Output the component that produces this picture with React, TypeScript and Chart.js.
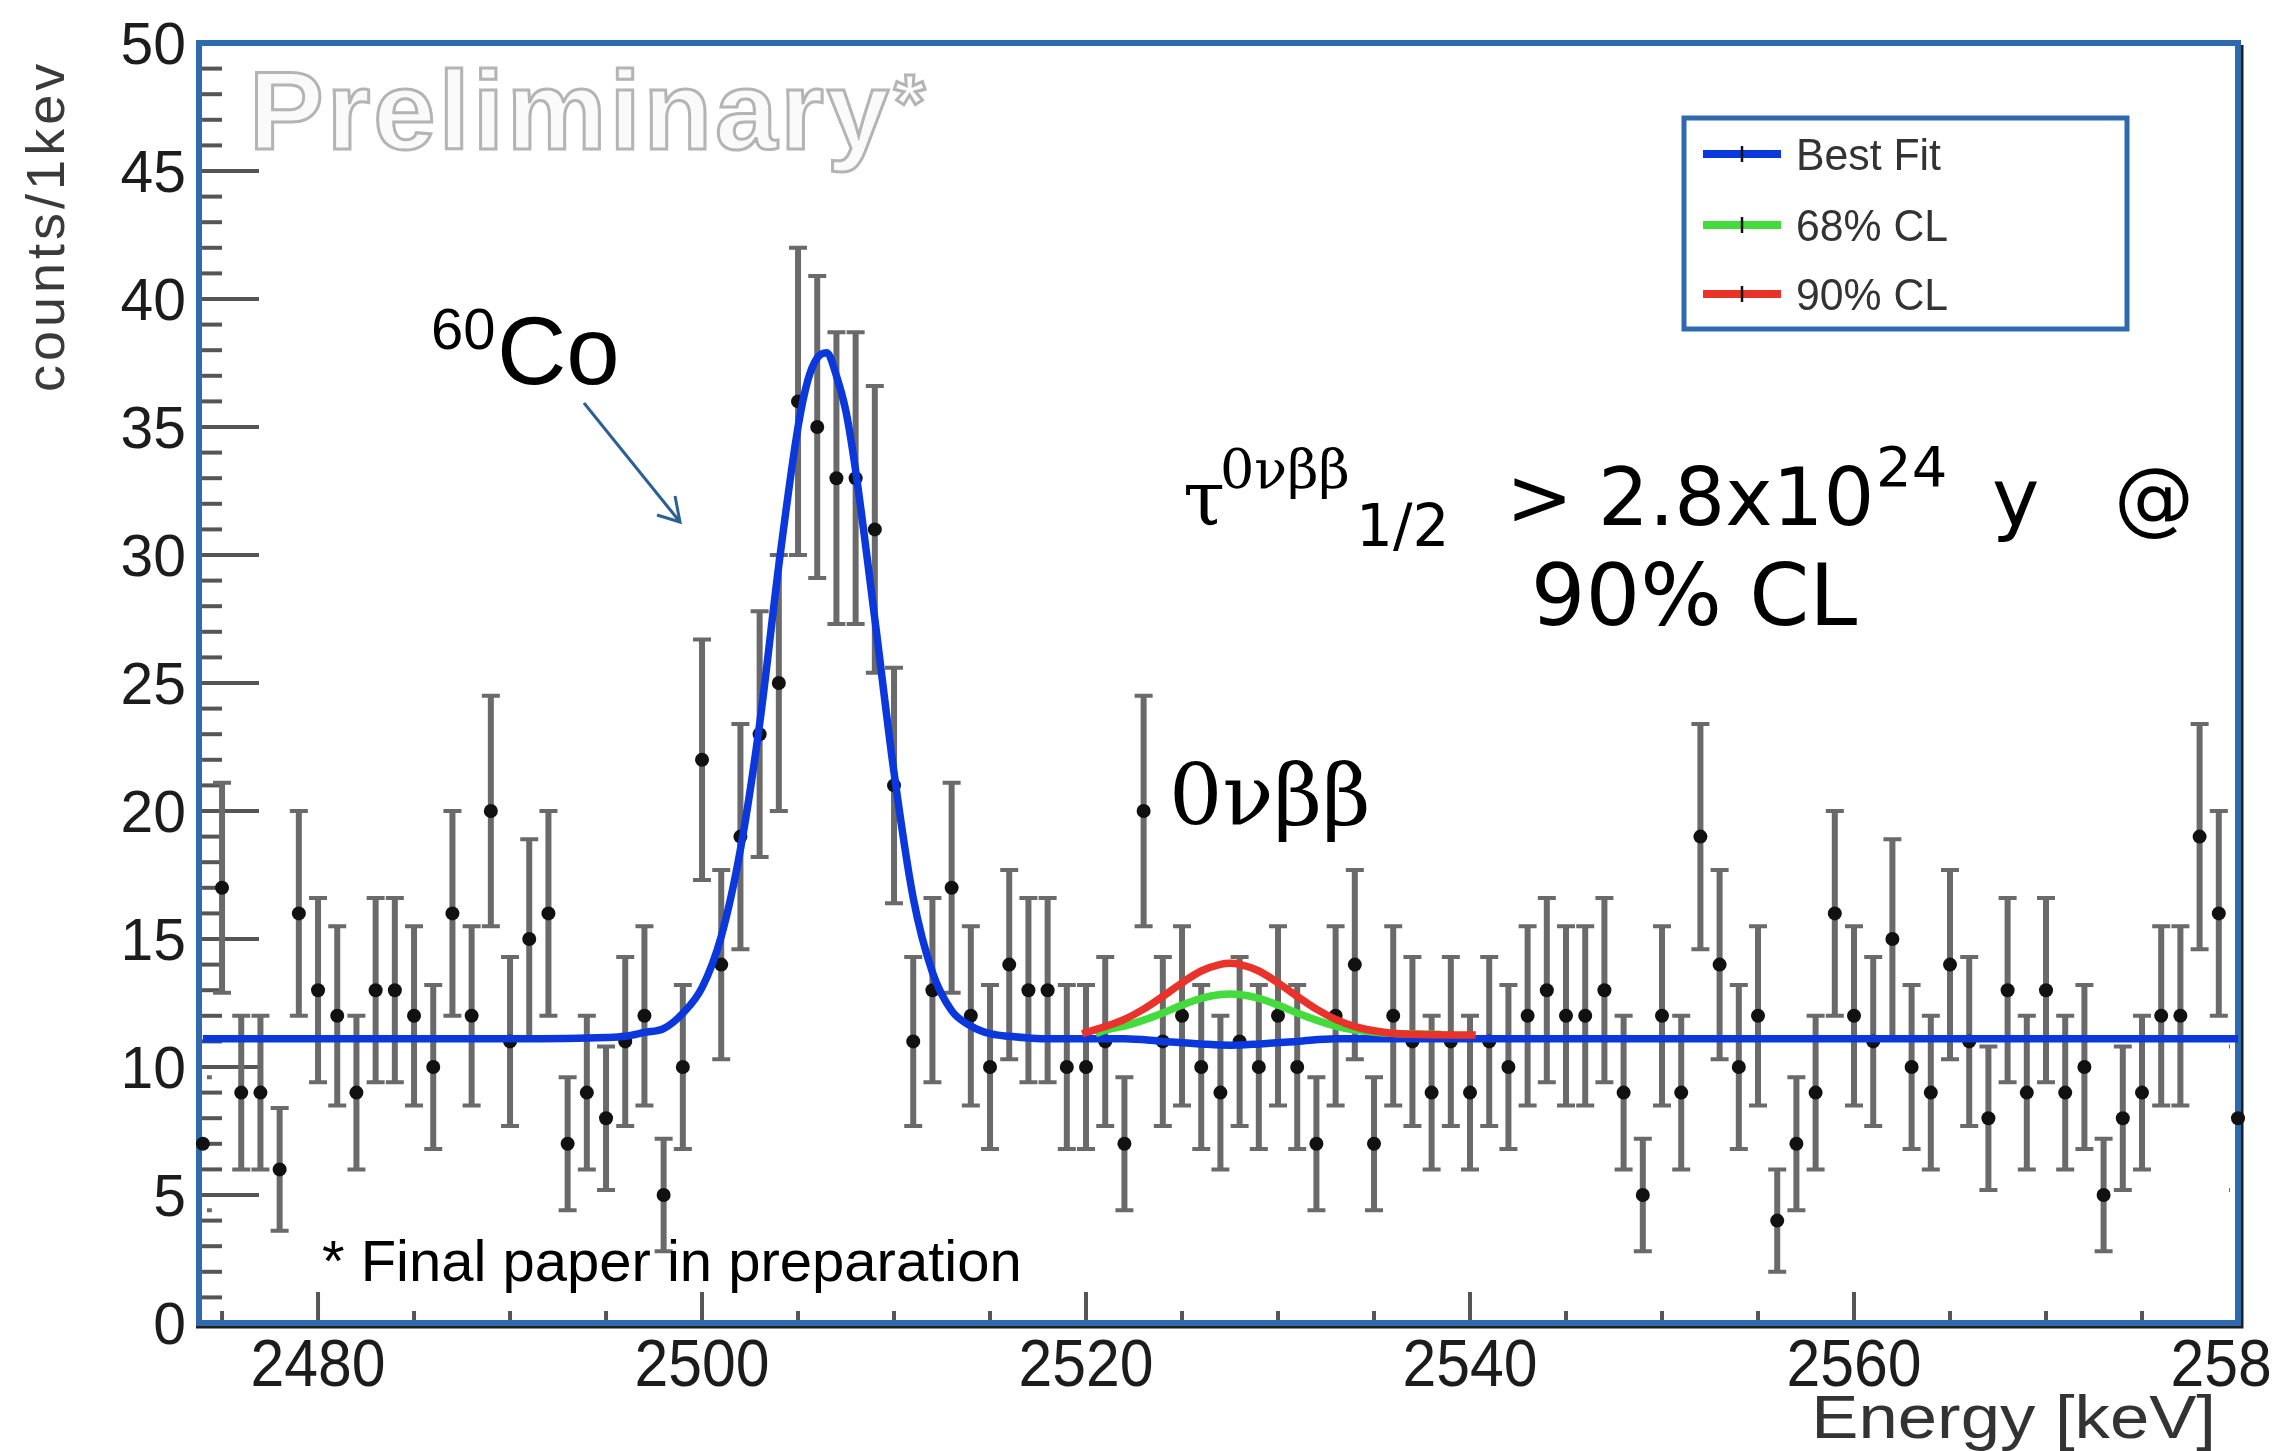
import React, { useEffect, useRef } from 'react';
import { Chart, registerables } from 'chart.js';

Chart.register(...registerables);

// ---------- data ----------
const energies = [
  2474, 2475, 2476, 2477, 2478, 2479, 2480, 2481, 2482, 2483,
  2484, 2485, 2486, 2487, 2488, 2489, 2490, 2491, 2492, 2493,
  2494, 2495, 2496, 2497, 2498, 2499, 2500, 2501, 2502, 2503,
  2504, 2505, 2506, 2507, 2508, 2509, 2510, 2511, 2512, 2513,
  2514, 2515, 2516, 2517, 2518, 2519, 2520, 2521, 2522, 2523,
  2524, 2525, 2526, 2527, 2528, 2529, 2530, 2531, 2532, 2533,
  2534, 2535, 2536, 2537, 2538, 2539, 2540, 2541, 2542, 2543,
  2544, 2545, 2546, 2547, 2548, 2549, 2550, 2551, 2552, 2553,
  2554, 2555, 2556, 2557, 2558, 2559, 2560, 2561, 2562, 2563,
  2564, 2565, 2566, 2567, 2568, 2569, 2570, 2571, 2572, 2573,
  2574, 2575, 2576, 2577, 2578, 2579, 2580,
];
const counts = [
  7, 17, 9, 9, 6, 16, 13, 12, 9, 13,
  13, 12, 10, 16, 12, 20, 11, 15, 16, 7,
  9, 8, 11, 12, 5, 10, 22, 14, 19, 23,
  25, 36, 35, 33, 33, 31, 21, 11, 13, 17,
  12, 10, 14, 13, 13, 10, 10, 11, 7, 20,
  11, 12, 10, 9, 11, 10, 12, 10, 7, 12,
  14, 7, 12, 11, 9, 11, 9, 11, 10, 12,
  13, 12, 12, 13, 9, 5, 12, 9, 19, 14,
  10, 12, 4, 7, 9, 16, 12, 11, 15, 10,
  9, 14, 11, 8, 13, 9, 13, 9, 10, 5,
  8, 9, 12, 12, 19, 16, 8,
];
const countErrors = [
  2.6, 4.1, 3.0, 3.0, 2.4, 4.0, 3.6, 3.5, 3.0, 3.6,
  3.6, 3.5, 3.2, 4.0, 3.5, 4.5, 3.3, 3.9, 4.0, 2.6,
  3.0, 2.8, 3.3, 3.5, 2.2, 3.2, 4.7, 3.7, 4.4, 4.8,
  5.0, 6.0, 5.9, 5.7, 5.7, 5.6, 4.6, 3.3, 3.6, 4.1,
  3.5, 3.2, 3.7, 3.6, 3.6, 3.2, 3.2, 3.3, 2.6, 4.5,
  3.3, 3.5, 3.2, 3.0, 3.3, 3.2, 3.5, 3.2, 2.6, 3.5,
  3.7, 2.6, 3.5, 3.3, 3.0, 3.3, 3.0, 3.3, 3.2, 3.5,
  3.6, 3.5, 3.5, 3.6, 3.0, 2.2, 3.5, 3.0, 4.4, 3.7,
  3.2, 3.5, 2.0, 2.6, 3.0, 4.0, 3.5, 3.3, 3.9, 3.2,
  3.0, 3.7, 3.3, 2.8, 3.6, 3.0, 3.6, 3.0, 3.2, 2.2,
  2.8, 3.0, 3.5, 3.5, 4.4, 4.0, 2.8,
];

// Best fit curve
const bestFitE = [2474, 2490, 2495, 2496, 2497, 2498, 2499, 2500, 2501, 2502, 2503, 2504, 2505, 2505.5, 2506, 2506.5, 2507, 2507.5, 2508, 2509, 2510, 2511, 2512, 2513, 2514, 2515, 2516, 2518, 2522, 2524, 2526, 2527.5, 2529, 2531, 2533, 2540, 2580];
const bestFitY = [11.1, 11.1, 11.15, 11.2, 11.35, 11.5, 12.1, 13.1, 15.1, 18.5, 23.4, 29.6, 35.0, 36.8, 37.7, 37.9, 37.0, 35.6, 33.3, 27.5, 21.5, 16.6, 13.7, 12.2, 11.6, 11.3, 11.2, 11.1, 11.1, 11.0, 10.9, 10.85, 10.9, 11.0, 11.1, 11.1, 11.1];

// 68% CL curve
const cl68E = [2520.5, 2521, 2522, 2523, 2524, 2525, 2526, 2527, 2527.5, 2528, 2529, 2530, 2531, 2532, 2533, 2534, 2535.5, 2538.5];
const cl68Y = [11.3, 11.44, 11.6, 11.83, 12.11, 12.42, 12.68, 12.83, 12.85, 12.83, 12.68, 12.42, 12.11, 11.83, 11.6, 11.44, 11.33, 11.28];

// 90% CL curve
const cl90E = [2519.8, 2521, 2522, 2523, 2524, 2525, 2526, 2527, 2527.5, 2528, 2529, 2530, 2531, 2532, 2533, 2534, 2535.5, 2537, 2540.3];
const cl90Y = [11.3, 11.58, 11.86, 12.26, 12.76, 13.29, 13.75, 14.01, 14.05, 14.01, 13.75, 13.29, 12.76, 12.26, 11.86, 11.58, 11.36, 11.28, 11.25];

const seriesLabels = ['Best Fit', '68% CL', '90% CL'];
const seriesColors = ['#0a38dc', '#44dc3c', '#e8322a'];

const yTickValues = [0, 5, 10, 15, 20, 25, 30, 35, 40, 45, 50];
const yTickLabels = ['0', '5', '10', '15', '20', '25', '30', '35', '40', '45', '50'];
const xTickValues = [2480, 2500, 2520, 2540, 2560, 2580];
const xTickLabels = ['2480', '2500', '2520', '2540', '2560', '2580'];

const FRAME = '#2e6aad';
const SANS = '"Liberation Sans", Arial, sans-serif';
const DSANS = '"DejaVu Sans", sans-serif';
const SERIF = '"DejaVu Serif", serif';

function txt(
  ctx: CanvasRenderingContext2D,
  s: string,
  x: number,
  y: number,
  font: string,
  color: string,
  align: CanvasTextAlign = 'left',
  baseline: CanvasTextBaseline = 'alphabetic',
  sx = 1,
) {
  ctx.save();
  ctx.font = font;
  ctx.fillStyle = color;
  ctx.textAlign = align;
  ctx.textBaseline = baseline;
  ctx.translate(x, y);
  ctx.scale(sx, 1);
  ctx.fillText(s, 0, 0);
  ctx.restore();
}

const decorPlugin = {
  id: 'decor',
  beforeDatasetsDraw(chart: any) {
    const { ctx, chartArea: a, scales } = chart;
    const xs = scales.x;
    const ys = scales.y;
    ctx.save();
    // tick marks
    ctx.strokeStyle = '#555';
    ctx.lineWidth = 4;
    for (let v = 0; v <= 50; v++) {
      const py = ys.getPixelForValue(v);
      const len = v % 5 === 0 ? 60 : 23;
      ctx.beginPath();
      ctx.moveTo(a.left, py);
      ctx.lineTo(a.left + len, py);
      ctx.stroke();
    }
    for (let e = 2475; e <= 2580; e += 5) {
      const px = xs.getPixelForValue(e);
      const len = e % 20 === 0 ? 31 : 12;
      ctx.beginPath();
      ctx.moveTo(px, a.bottom);
      ctx.lineTo(px, a.bottom - len);
      ctx.stroke();
    }
    // frame shadow
    ctx.strokeStyle = '#1e1e1e';
    ctx.lineWidth = 3;
    ctx.beginPath();
    ctx.moveTo(a.left - 3, a.bottom + 4);
    ctx.lineTo(a.right + 4, a.bottom + 4);
    ctx.lineTo(a.right + 4, a.top + 2);
    ctx.stroke();
    // frame
    ctx.strokeStyle = FRAME;
    ctx.lineWidth = 6;
    ctx.strokeRect(a.left, a.top, a.right - a.left, a.bottom - a.top);

    // error bars
    ctx.beginPath();
    ctx.rect(a.left + 8, a.top, a.right - a.left - 16, a.bottom - a.top);
    ctx.clip();
    ctx.strokeStyle = '#6a6a6a';
    for (let i = 0; i < energies.length; i++) {
      const px = xs.getPixelForValue(energies[i]);
      const y1 = ys.getPixelForValue(counts[i] + countErrors[i]);
      const y2 = ys.getPixelForValue(counts[i] - countErrors[i]);
      ctx.lineWidth = 6;
      ctx.beginPath();
      ctx.moveTo(px, y1);
      ctx.lineTo(px, y2);
      ctx.stroke();
      ctx.lineWidth = 4;
      ctx.beginPath();
      ctx.moveTo(px - 9, y1);
      ctx.lineTo(px + 9, y1);
      ctx.moveTo(px - 9, y2);
      ctx.lineTo(px + 9, y2);
      ctx.stroke();
    }
    ctx.restore();
  },
  afterDraw(chart: any) {
    const { ctx, scales } = chart;
    const xs = scales.x;
    const ys = scales.y;
    ctx.save();

    // tick labels
    yTickValues.forEach((v, i) => {
      txt(ctx, yTickLabels[i], 186, ys.getPixelForValue(v) + 21, `60px ${SANS}`, '#1c1c1c', 'right', 'alphabetic', 0.98);
    });
    xTickValues.forEach((v, i) => {
      txt(ctx, xTickLabels[i], xs.getPixelForValue(v), 1386, `66px ${SANS}`, '#1c1c1c', 'center', 'alphabetic', 0.92);
    });
    // axis titles
    txt(ctx, 'Energy [keV]', 2216, 1438, `62px ${SANS}`, '#333', 'right', 'alphabetic', 1.14);
    ctx.save();
    ctx.translate(64, 392);
    ctx.rotate(-Math.PI / 2);
    ctx.font = `54px ${SANS}`;
    (ctx as any).letterSpacing = '4px';
    ctx.fillStyle = '#3a3a3a';
    ctx.textAlign = 'left';
    ctx.fillText('counts/1kev', 0, 0);
    ctx.restore();

    // Preliminary watermark
    ctx.save();
    ctx.font = `bold 112px ${SANS}`;
    (ctx as any).letterSpacing = '3px';
    ctx.fillStyle = '#fafafa';
    ctx.fillText('Preliminary', 249, 149);
    ctx.strokeStyle = '#b4b4b4';
    ctx.lineWidth = 3;
    ctx.strokeText('Preliminary', 249, 149);
    const pw = ctx.measureText('Preliminary').width;
    ctx.font = `bold 80px ${SANS}`;
    ctx.strokeText('*', 249 + pw + 2, 130);
    ctx.restore();

    // 60Co label + arrow
    txt(ctx, '60', 431, 349, `58px ${SANS}`, '#000');
    txt(ctx, 'Co', 497, 384, `96px ${SANS}`, '#000');
    ctx.strokeStyle = '#2d5f95';
    ctx.lineWidth = 3;
    ctx.beginPath();
    ctx.moveTo(584, 403);
    ctx.lineTo(680, 522);
    ctx.moveTo(657, 515);
    ctx.lineTo(680, 522);
    ctx.lineTo(675, 496);
    ctx.stroke();

    // 0vbb label
    txt(ctx, '0νββ', 1169, 824, `84px ${SERIF}`, '#000');

    // half-life annotation
    txt(ctx, 'τ', 1183, 525, `76px ${SERIF}`, '#000');
    txt(ctx, '0νββ', 1220, 488, `54px ${SERIF}`, '#000');
    txt(ctx, '1/2', 1356, 546, `58px ${DSANS}`, '#000');
    txt(ctx, '>', 1506, 525, `80px ${DSANS}`, '#000');
    txt(ctx, '2.8x10', 1598, 525, `80px ${DSANS}`, '#000');
    txt(ctx, '24', 1876, 486, `56px ${DSANS}`, '#000');
    txt(ctx, 'y', 1992, 525, `80px ${DSANS}`, '#000');
    txt(ctx, '@', 2114, 525, `80px ${DSANS}`, '#000');
    txt(ctx, '90% CL', 1694, 625, `86px ${DSANS}`, '#000', 'center');

    // footnote
    txt(ctx, '* Final paper in preparation', 322, 1281, `58px ${SANS}`, '#000');

    // legend
    ctx.fillStyle = '#fff';
    ctx.fillRect(1684, 118, 443, 211);
    ctx.strokeStyle = FRAME;
    ctx.lineWidth = 5;
    ctx.strokeRect(1684, 118, 443, 211);
    const rows = [154, 225, 294];
    seriesLabels.forEach((lab, i) => {
      const ry = rows[i];
      ctx.strokeStyle = seriesColors[i];
      ctx.lineWidth = 8;
      ctx.beginPath();
      ctx.moveTo(1703, ry);
      ctx.lineTo(1781, ry);
      ctx.stroke();
      ctx.strokeStyle = '#111';
      ctx.lineWidth = 2.5;
      ctx.beginPath();
      ctx.moveTo(1742, ry - 8);
      ctx.lineTo(1742, ry + 8);
      ctx.stroke();
      txt(ctx, lab, 1796, ry + 16, `45px ${SANS}`, '#333', 'left', 'alphabetic', 0.95);
    });
    ctx.restore();
  },
};

export default function App() {
  const ref = useRef<HTMLCanvasElement>(null);
  useEffect(() => {
    const toXY = (xs: number[], ys: number[]) => xs.map((x, i) => ({ x, y: ys[i] }));
    const chart = new Chart(ref.current as HTMLCanvasElement, {
      type: 'line',
      data: {
        datasets: [
          {
            label: seriesLabels[2],
            data: toXY(cl90E, cl90Y),
            borderColor: seriesColors[2],
            borderWidth: 7.5,
            pointRadius: 0,
            cubicInterpolationMode: 'monotone',
            order: 1,
          },
          {
            label: seriesLabels[1],
            data: toXY(cl68E, cl68Y),
            borderColor: seriesColors[1],
            borderWidth: 7.5,
            pointRadius: 0,
            cubicInterpolationMode: 'monotone',
            order: 2,
          },
          {
            label: seriesLabels[0],
            data: toXY(bestFitE, bestFitY),
            borderColor: seriesColors[0],
            borderWidth: 7.5,
            pointRadius: 0,
            cubicInterpolationMode: 'monotone',
            order: 3,
          },
          {
            label: 'Data',
            data: toXY(energies, counts),
            showLine: false,
            pointRadius: 7,
            pointBackgroundColor: '#111',
            pointBorderWidth: 0,
            borderColor: '#111',
            clip: false,
            order: 4,
          } as any,
        ],
      },
      options: {
        responsive: false,
        animation: false,
        devicePixelRatio: 1,
        layout: { padding: { left: 199, right: 36, top: 43, bottom: 128 } },
        scales: {
          x: { type: 'linear', min: 2473.8, max: 2580, display: false },
          y: { type: 'linear', min: 0, max: 50, display: false },
        },
        plugins: {
          legend: { display: false },
          tooltip: { enabled: false },
        },
        events: [],
      },
      plugins: [decorPlugin],
    } as any);
    return () => chart.destroy();
  }, []);
  return (
    <div style={{ position: 'fixed', left: 0, top: 0, width: 2274, height: 1451, background: '#fff' }}>
      <canvas ref={ref} width={2274} height={1451} style={{ display: 'block', width: 2274, height: 1451 }} />
    </div>
  );
}
